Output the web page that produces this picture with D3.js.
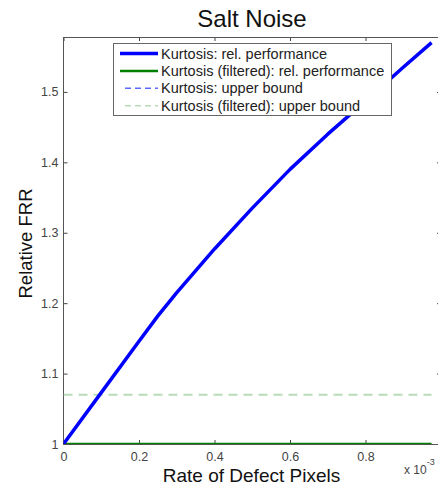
<!DOCTYPE html>
<html>
<head>
<meta charset="utf-8">
<script src="https://cdn.jsdelivr.net/npm/d3@7"></script>
<style>
    body { margin: 0; background: #fff; }
    text { font-family: "Liberation Sans", Arial, sans-serif; }
</style>
</head>
<body>
<div class="chart"></div>
<script>
const rates = [0, 0.1, 0.2, 0.25, 0.3, 0.4, 0.5, 0.6, 0.7, 0.8, 0.9, 0.975];
const kurtosisPerf = [1.0, 1.073, 1.146, 1.182, 1.215, 1.277, 1.335, 1.390, 1.440, 1.487, 1.535, 1.570];
const filteredPerf = [1, 1, 1, 1, 1, 1, 1, 1, 1, 1, 1, 1];
const filteredBound = 1.07;
const xTicks = [0, 0.2, 0.4, 0.6, 0.8];
const yTicks = [1, 1.1, 1.2, 1.3, 1.4, 1.5];
const legendLabels = [
    'Kurtosis: rel. performance',
    'Kurtosis (filtered): rel. performance',
    'Kurtosis: upper bound',
    'Kurtosis (filtered): upper bound'
];

const plotLeft = 63.5, plotRight = 441, plotTop = 37, plotBottom = 444;

const x = d3.scaleLinear().domain([0, 1]).range([plotLeft, plotRight]);
const y = d3.scaleLinear().domain([1, 1.578]).range([plotBottom, plotTop]);

const svg = d3.select('.chart')
    .append('svg')
        .attr('width', 438)
        .attr('height', 485);

svg.append('clipPath')
    .attr('id', 'plot')
    .append('rect')
        .attr('x', plotLeft)
        .attr('y', plotTop)
        .attr('width', plotRight - plotLeft)
        .attr('height', plotBottom - plotTop);

const styleAxis = (g) => {
    g.select('.domain').remove();
    g.selectAll('.tick line').attr('stroke', '#444');
    g.selectAll('.tick text')
        .attr('fill', '#444')
        .style('font-size', '12.5px')
        .style('font-family', '"Liberation Sans", Arial, sans-serif');
};

svg.append('g')
    .attr('transform', `translate(0,${plotBottom})`)
    .call(d3.axisBottom(x).tickValues(xTicks).tickSize(-4).tickPadding(8).tickFormat(d3.format('~g')))
    .call(styleAxis);
svg.append('g')
    .attr('transform', `translate(0,${plotTop})`)
    .call(d3.axisTop(x).tickValues(xTicks).tickSize(-4).tickFormat(''))
    .call(styleAxis);
svg.append('g')
    .attr('transform', `translate(${plotLeft},0)`)
    .call(d3.axisLeft(y).tickValues(yTicks).tickSize(-4).tickPadding(5).tickFormat(d3.format('~g')))
    .call(styleAxis);
svg.append('g')
    .attr('transform', `translate(${plotRight},0)`)
    .call(d3.axisRight(y).tickValues(yTicks).tickSize(-4).tickFormat(''))
    .call(styleAxis);

// box around the axes
svg.append('rect')
    .attr('x', plotLeft)
    .attr('y', plotTop + 0.5)
    .attr('width', plotRight - plotLeft)
    .attr('height', plotBottom - plotTop)
    .attr('fill', 'none')
    .attr('stroke', '#555');

const plot = svg.append('g').attr('clip-path', 'url(#plot)');

plot.append('line')
    .attr('x1', x(rates[0]))
    .attr('x2', x(rates[rates.length - 1]))
    .attr('y1', y(filteredBound))
    .attr('y2', y(filteredBound))
    .attr('stroke', '#b8dcb8')
    .attr('stroke-width', 2)
    .attr('stroke-dasharray', '9,6');

const line = d3.line()
    .x((d, i) => x(rates[i]))
    .y(d => y(d));

plot.append('path')
    .datum(filteredPerf)
    .attr('d', line)
    .attr('fill', 'none')
    .attr('stroke', '#007f00')
    .attr('stroke-width', 2.5);

plot.append('path')
    .datum(kurtosisPerf)
    .attr('d', line)
    .attr('fill', 'none')
    .attr('stroke', '#0000ff')
    .attr('stroke-width', 3.5)
    .attr('stroke-linejoin', 'round');

// legend
const legendStyles = [
    { color: '#0000ff', width: 3.5, dash: null },
    { color: '#007f00', width: 2.5, dash: null },
    { color: '#5a6aff', width: 1.5, dash: '6,4' },
    { color: '#b8dcb8', width: 1.5, dash: '6,4' }
];

const legend = svg.append('g');
legend.append('rect')
    .attr('x', 113.5)
    .attr('y', 43.5)
    .attr('width', 278)
    .attr('height', 72)
    .attr('fill', '#fff')
    .attr('stroke', '#666');

const item = legend.selectAll('g.item')
    .data(legendLabels)
    .enter()
        .append('g')
        .attr('class', 'item')
        .attr('transform', (d, i) => `translate(0, ${53.5 + i * 17.4})`);

item.append('line')
    .attr('x1', (d, i) => i < 2 ? 120 : 125)
    .attr('x2', 158)
    .attr('stroke', (d, i) => legendStyles[i].color)
    .attr('stroke-width', (d, i) => legendStyles[i].width)
    .attr('stroke-dasharray', (d, i) => legendStyles[i].dash);

item.append('text')
    .attr('x', 161)
    .attr('dy', '0.35em')
    .style('font-size', '14.5px')
    .attr('fill', '#222')
    .text(d => d);

// titles
svg.append('text')
    .attr('x', 252)
    .attr('y', 27)
    .attr('text-anchor', 'middle')
    .style('font-size', '24px')
    .attr('fill', '#111')
    .text('Salt Noise');

svg.append('text')
    .attr('x', 251.5)
    .attr('y', 482)
    .attr('text-anchor', 'middle')
    .style('font-size', '19px')
    .attr('fill', '#111')
    .text('Rate of Defect Pixels');

svg.append('text')
    .attr('transform', 'translate(31.5,243.5) rotate(-90)')
    .attr('text-anchor', 'middle')
    .style('font-size', '18.5px')
    .attr('fill', '#111')
    .text('Relative FRR');

const expo = svg.append('text')
    .attr('x', 404)
    .attr('y', 474)
    .style('font-size', '12px')
    .attr('fill', '#444')
    .text('x 10');
expo.append('tspan')
    .attr('dy', -9)
    .style('font-size', '9px')
    .text('-3');
</script>
</body>
</html>
